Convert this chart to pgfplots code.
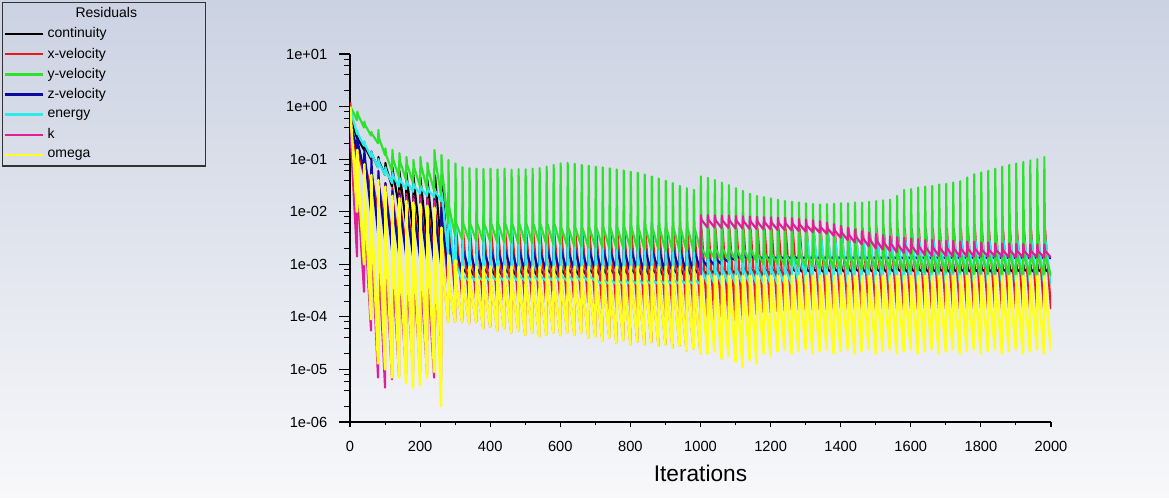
\documentclass[border=0pt]{standalone}
\usepackage{fontspec}
\setmainfont{Liberation Sans}
\usepackage{pgfplots}
\usepackage{pgfplotstable}
\pgfplotsset{compat=1.18}
\definecolor{bgtop}{RGB}{203,210,226}
\definecolor{bgbot}{RGB}{248,248,250}
\definecolor{cC}{RGB}{0,0,0}
\definecolor{cX}{RGB}{235,25,25}
\definecolor{cY}{RGB}{45,225,45}
\definecolor{cZ}{RGB}{10,10,160}
\definecolor{cE}{RGB}{45,235,235}
\definecolor{cK}{RGB}{225,30,150}
\definecolor{cW}{RGB}{255,255,30}

\pgfplotstableread{
it C X Y Z E K W
1 1 1.2 1 0.6 1 1 1
3 0.6 0.5 0.95 0.45 0.8 0.2 0.5
20 0.25 0.1 0.55 0.15 0.3 1.4e-3 0.01
21 0.28 0.2 0.8 0.25 0.35 0.1 0.15
23 0.24 0.14 0.7 0.2 0.3 0.02 0.05
40 0.15 0.05 0.4 0.06 0.18 3e-4 1e-3
41 0.2 0.12 0.52 0.15 0.22 0.05 0.08
43 0.17 0.08 0.45 0.1 0.19 5e-3 0.015
60 0.1 0.025 0.28 0.01 0.11 5.5e-5 9e-5
61 0.14 0.07 0.33 0.1 0.14 0.03 0.05
63 0.12 0.045 0.3 0.05 0.12 2e-3 8e-3
80 0.07 0.01 0.2 4e-3 0.07 7e-6 1.3e-5
81 0.11 0.05 0.36 0.06 0.1 0.025 0.04
83 0.09 0.03 0.25 0.03 0.085 1e-3 5e-3
100 0.05 6e-3 0.12 3e-3 0.05 4.5e-6 1e-5
101 0.085 0.035 0.16 0.035 0.07 0.022 0.03
103 0.07 0.02 0.12 0.02 0.06 8e-4 4e-3
120 0.03 3e-3 0.06 1.8e-3 0.035 6.5e-6 7e-6
121 0.07 0.028 0.15 0.025 0.055 0.02 0.02
123 0.055 0.015 0.1 0.012 0.048 6e-4 3e-3
140 0.012 2.5e-3 0.045 1.6e-3 0.03 7.5e-6 7e-6
141 0.06 0.025 0.13 0.022 0.045 0.02 0.018
143 0.045 0.013 0.09 0.011 0.04 5e-4 2.5e-3
160 6e-3 2.2e-3 0.04 1.5e-3 0.027 8e-6 5.5e-6
161 0.055 0.022 0.11 0.02 0.04 0.019 0.016
163 0.04 0.012 0.08 0.01 0.036 5e-4 2.5e-3
180 4e-3 2e-3 0.035 1.4e-3 0.024 9e-6 4.5e-6
181 0.05 0.02 0.097 0.019 0.035 0.018 0.015
183 0.035 0.011 0.07 9e-3 0.031 5e-4 2.5e-3
200 3e-3 1.8e-3 0.03 1.3e-3 0.022 9e-6 5e-6
201 0.045 0.02 0.11 0.018 0.032 0.018 0.014
203 0.032 0.011 0.075 9e-3 0.028 5e-4 2.5e-3
220 2.5e-3 1.7e-3 0.027 1.2e-3 0.02 8e-6 7e-6
221 0.04 0.018 0.085 0.017 0.03 0.017 0.013
223 0.03 0.01 0.065 8e-3 0.026 5e-4 2.5e-3
240 2.2e-3 1.6e-3 0.025 1.1e-3 0.019 7e-6 9e-6
241 0.05 0.018 0.15 0.017 0.028 0.016 0.012
243 0.045 0.01 0.1 8e-3 0.025 5e-4 2e-3
260 2e-3 1.5e-3 0.02 1e-3 0.016 7e-6 2e-6
261 0.045 0.015 0.12 0.012 0.024 5e-3 5e-3
263 0.03 8e-3 0.06 6e-3 0.02 1e-3 1e-3
280 1.2e-3 4e-4 6e-3 8e-4 1.5e-3 8e-5 8e-5
281 0.012 8e-3 0.097 5e-3 0.016 5e-4 1.5e-3
283 3e-3 6e-3 0.012 2.5e-3 0.01 4e-4 4e-4
300 6e-4 2.5e-4 3.5e-3 7.5e-4 5e-4 8e-5 8e-5
301 3e-3 6e-3 0.083 3.5e-3 0.014 3e-4 1.2e-3
303 1e-3 4.5e-3 6e-3 1.8e-3 1e-3 4e-4 4e-4
320 5.5e-4 2.2e-4 3e-3 7e-4 4.8e-4 8e-5 8e-5
321 1.8e-3 5.2e-3 0.07 2.4e-3 0.013 3e-4 9e-4
323 8e-4 4e-3 6e-3 1.8e-3 6e-4 4e-4 4e-4
340 6e-4 1.8e-4 2.8e-3 7.5e-4 4.8e-4 7.5e-5 7.5e-5
341 1.5e-3 5.5e-3 0.067 2.2e-3 0.012 3e-4 9e-4
343 8e-4 4e-3 6e-3 1.8e-3 6e-4 4e-4 4e-4
360 5.2e-4 2e-4 2.8e-3 6.5e-4 4.8e-4 8e-5 8e-5
361 1.5e-3 4.9e-3 0.066 2.1e-3 0.011 3e-4 9e-4
363 8e-4 4e-3 6e-3 1.8e-3 6e-4 4e-4 4e-4
380 5.5e-4 1.7e-4 2.7e-3 7e-4 4.8e-4 6e-5 6e-5
381 1.5e-3 5.2e-3 0.065 2.3e-3 0.0105 3e-4 9e-4
383 8e-4 4e-3 6e-3 1.8e-3 6e-4 4e-4 4e-4
400 6e-4 1.8e-4 2.7e-3 7.5e-4 4.8e-4 6.5e-5 6.5e-5
401 1.5e-3 5.5e-3 0.066 2.2e-3 0.01 3e-4 9e-4
403 8e-4 4e-3 6e-3 1.8e-3 6e-4 4e-4 4e-4
420 5.2e-4 2e-4 2.6e-3 6.5e-4 4.8e-4 5.5e-5 5.5e-5
421 1.5e-3 4.9e-3 0.064 2.1e-3 0.0095 3e-4 9e-4
423 8e-4 4e-3 6e-3 1.8e-3 6e-4 4e-4 4e-4
440 5.5e-4 1.7e-4 2.6e-3 7e-4 4.8e-4 6e-5 6e-5
441 1.5e-3 5.2e-3 0.066 2.3e-3 0.009 3e-4 9e-4
443 8e-4 4e-3 6e-3 1.8e-3 6e-4 4e-4 4e-4
460 6e-4 1.8e-4 2.6e-3 7.5e-4 4.8e-4 5e-5 5e-5
461 1.5e-3 5.5e-3 0.063 2.2e-3 0.0088 3e-4 9e-4
463 8e-4 4e-3 6e-3 1.8e-3 6e-4 4e-4 4e-4
480 5.2e-4 2e-4 2.5e-3 6.5e-4 4.8e-4 5.5e-5 5.5e-5
481 1.5e-3 4.9e-3 0.065 2.1e-3 0.0085 3e-4 9e-4
483 8e-4 4e-3 6e-3 1.8e-3 6e-4 4e-4 4e-4
500 5.5e-4 1.7e-4 2.5e-3 7e-4 4.8e-4 4.5e-5 4.5e-5
501 1.5e-3 5.2e-3 0.064 2.3e-3 0.0082 3e-4 9e-4
503 8e-4 4e-3 6e-3 1.8e-3 6e-4 4e-4 4e-4
520 6e-4 1.8e-4 2.5e-3 7.5e-4 4.8e-4 5e-5 5e-5
521 1.5e-3 5.5e-3 0.066 2.2e-3 0.008 3e-4 9e-4
523 8e-4 4e-3 6e-3 1.8e-3 6e-4 4e-4 4e-4
540 5.2e-4 2e-4 2.5e-3 6.5e-4 4.8e-4 4.2e-5 4.2e-5
541 1.5e-3 4.9e-3 0.068 2.1e-3 0.0078 3e-4 9e-4
543 8e-4 4e-3 6e-3 1.8e-3 6e-4 4e-4 4e-4
560 5.5e-4 1.7e-4 2.4e-3 7e-4 4.8e-4 4.5e-5 4.5e-5
561 1.5e-3 5.2e-3 0.072 2.3e-3 0.0076 3e-4 9e-4
563 8e-4 4e-3 6e-3 1.8e-3 6e-4 4e-4 4e-4
580 6e-4 1.8e-4 2.4e-3 7.5e-4 4.8e-4 5e-5 5e-5
581 1.5e-3 5.5e-3 0.078 2.2e-3 0.0074 3e-4 9e-4
583 8e-4 4e-3 6e-3 1.8e-3 6e-4 4e-4 4e-4
600 5.2e-4 2e-4 2.4e-3 6.5e-4 4.8e-4 4.5e-5 4.5e-5
601 1.5e-3 4.9e-3 0.083 2.1e-3 0.0072 3e-4 9e-4
603 8e-4 4e-3 5e-3 1.8e-3 6e-4 4e-4 4e-4
620 5.5e-4 1.7e-4 2.2e-3 7e-4 4.8e-4 5e-5 5e-5
621 1.5e-3 5.2e-3 0.085 2.3e-3 0.007 3e-4 9e-4
623 8e-4 4e-3 5e-3 1.8e-3 6e-4 4e-4 4e-4
640 6e-4 1.8e-4 2.2e-3 7.5e-4 4.8e-4 4.5e-5 4.5e-5
641 1.5e-3 5.5e-3 0.082 2.2e-3 0.0068 3e-4 9e-4
643 8e-4 4e-3 5e-3 1.8e-3 6e-4 4e-4 4e-4
660 5.2e-4 2e-4 2.2e-3 6.5e-4 4.8e-4 5e-5 5e-5
661 1.5e-3 4.9e-3 0.078 2.1e-3 0.0066 3e-4 9e-4
663 8e-4 4e-3 5e-3 1.8e-3 6e-4 4e-4 4e-4
680 5.5e-4 1.7e-4 2.1e-3 7e-4 4.8e-4 4e-5 4e-5
681 1.5e-3 5.2e-3 0.075 2.3e-3 0.0065 3e-4 9e-4
683 8e-4 4e-3 5e-3 1.8e-3 6e-4 4e-4 4e-4
700 6e-4 1.8e-4 2.1e-3 7.5e-4 4.8e-4 4.2e-5 4.2e-5
701 1.5e-3 5.5e-3 0.072 2.2e-3 0.0064 3e-4 9e-4
703 8e-4 4e-3 5e-3 1.8e-3 5e-4 4e-4 4e-4
720 5.2e-4 1.4e-4 2.1e-3 6.5e-4 4.2e-4 3.5e-5 3.5e-5
721 1.5e-3 4.9e-3 0.07 2.1e-3 0.0062 3e-4 9e-4
723 8e-4 4e-3 5e-3 1.8e-3 5e-4 4e-4 4e-4
740 5.5e-4 1.3e-4 2e-3 7e-4 4.2e-4 4e-5 4e-5
741 1.5e-3 5.2e-3 0.067 2.3e-3 0.0061 3e-4 9e-4
743 8e-4 4e-3 5e-3 1.8e-3 5e-4 4e-4 4e-4
760 6e-4 1.5e-4 2e-3 7.5e-4 4.2e-4 3.2e-5 3.2e-5
761 1.5e-3 5.5e-3 0.064 2.2e-3 0.006 3e-4 9e-4
763 8e-4 4e-3 5e-3 1.8e-3 5e-4 4e-4 4e-4
780 5.2e-4 1.4e-4 2e-3 6.5e-4 4.2e-4 3.6e-5 3.6e-5
781 1.5e-3 4.9e-3 0.061 2.1e-3 0.0059 3e-4 9e-4
783 8e-4 4e-3 5e-3 1.8e-3 5e-4 4e-4 4e-4
800 5.5e-4 1.3e-4 2e-3 7e-4 4.2e-4 3e-5 3e-5
801 1.5e-3 5.2e-3 0.058 2.3e-3 0.0058 3e-4 9e-4
803 8e-4 4e-3 5e-3 1.8e-3 5e-4 4e-4 4e-4
820 6e-4 1.5e-4 1.9e-3 7.5e-4 4.2e-4 3.4e-5 3.4e-5
821 1.5e-3 5.5e-3 0.055 2.2e-3 0.0057 3e-4 9e-4
823 8e-4 4e-3 5e-3 1.8e-3 5e-4 4e-4 4e-4
840 5.2e-4 1.4e-4 1.9e-3 6.5e-4 4.2e-4 3e-5 3e-5
841 1.5e-3 4.9e-3 0.051 2.1e-3 0.0056 3e-4 9e-4
843 8e-4 4e-3 5e-3 1.8e-3 5e-4 4e-4 4e-4
860 5.5e-4 1.3e-4 1.9e-3 7e-4 4.2e-4 3.3e-5 3.3e-5
861 1.5e-3 5.2e-3 0.047 2.3e-3 0.0055 3e-4 9e-4
863 8e-4 4e-3 5e-3 1.8e-3 5e-4 4e-4 4e-4
880 6e-4 1.5e-4 1.9e-3 7.5e-4 4.2e-4 2.8e-5 2.8e-5
881 1.5e-3 5.5e-3 0.043 2.2e-3 0.0055 3e-4 9e-4
883 8e-4 4e-3 5e-3 1.8e-3 5e-4 4e-4 4e-4
900 5.2e-4 1.4e-4 1.8e-3 6.5e-4 4.2e-4 3e-5 3e-5
901 1.5e-3 4.9e-3 0.039 2.1e-3 0.0054 3e-4 9e-4
903 8e-4 4e-3 5e-3 1.8e-3 5e-4 4e-4 4e-4
920 5.5e-4 1.3e-4 1.8e-3 7e-4 4.2e-4 2.6e-5 2.6e-5
921 1.5e-3 5.2e-3 0.035 2.3e-3 0.0054 3e-4 9e-4
923 8e-4 4e-3 5e-3 1.8e-3 5e-4 4e-4 4e-4
940 6e-4 1.5e-4 1.8e-3 7.5e-4 4.2e-4 2.8e-5 2.8e-5
941 1.5e-3 5.5e-3 0.031 2.2e-3 0.0053 3e-4 9e-4
943 8e-4 4e-3 5e-3 1.8e-3 5e-4 4e-4 4e-4
960 5.2e-4 1.4e-4 1.8e-3 6.5e-4 4.2e-4 2.3e-5 2.3e-5
961 1.5e-3 4.9e-3 0.028 2.1e-3 0.0053 3e-4 9e-4
963 8e-4 4e-3 5e-3 1.8e-3 5e-4 4e-4 4e-4
980 5.5e-4 1.3e-4 1.8e-3 7e-4 4.2e-4 2.5e-5 2.5e-5
981 1.5e-3 5.2e-3 0.026 2.3e-3 0.0052 3e-4 9e-4
983 8e-4 4e-3 5e-3 1.8e-3 5e-4 4e-4 4e-4
1000 6e-4 1.5e-4 1.8e-3 7.5e-4 4.2e-4 2e-5 2e-5
1001 1e-3 4.9e-3 0.047 2e-3 9e-3 8.6e-3 6e-4
1003 8e-4 4.6e-3 2e-3 1.3e-3 8e-4 7e-3 4e-4
1020 6.5e-4 1e-4 1.3e-3 9e-4 4.2e-4 5e-3 2e-5
1021 1e-3 4.9e-3 0.044 2e-3 8.7e-3 8.6e-3 6e-4
1023 8e-4 4.6e-3 2e-3 1.3e-3 8e-4 7e-3 4e-4
1040 6.8e-4 9e-5 1.3e-3 9.5e-4 4.2e-4 5e-3 2.2e-5
1041 1e-3 4.9e-3 0.04 1.9e-3 8.4e-3 8.5e-3 6e-4
1043 8e-4 4.6e-3 2e-3 1.3e-3 8e-4 6.9e-3 4e-4
1060 6.3e-4 1e-4 1.2e-3 1e-3 4.2e-4 4.9e-3 1.6e-5
1061 1e-3 4.9e-3 0.036 1.9e-3 8e-3 8.4e-3 6e-4
1063 8e-4 4.6e-3 2e-3 1.35e-3 8e-4 6.8e-3 4e-4
1080 6.5e-4 9e-5 1.2e-3 1.1e-3 4.2e-4 4.9e-3 1.8e-5
1081 1e-3 4.9e-3 0.032 1.85e-3 7.7e-3 8.4e-3 6e-4
1083 8e-4 4.6e-3 2e-3 1.35e-3 8e-4 6.8e-3 4e-4
1100 6.8e-4 8.5e-5 1.2e-3 1.2e-3 4.2e-4 4.8e-3 1.4e-5
1101 1e-3 4.9e-3 0.028 1.8e-3 7.4e-3 8.3e-3 6e-4
1103 8e-4 4.6e-3 2e-3 1.4e-3 8e-4 6.7e-3 4e-4
1120 6.3e-4 9e-5 1.1e-3 1.3e-3 4.2e-4 4.8e-3 1.1e-5
1121 1e-3 4.9e-3 0.025 1.8e-3 7e-3 8.2e-3 6e-4
1123 8e-4 4.6e-3 2e-3 1.4e-3 8e-4 6.6e-3 4e-4
1140 6.5e-4 1e-4 1.1e-3 1.3e-3 4.2e-4 4.7e-3 1.5e-5
1141 1e-3 4.9e-3 0.022 1.8e-3 6.8e-3 8.1e-3 6e-4
1143 8e-4 4.6e-3 2e-3 1.4e-3 8e-4 6.5e-3 4e-4
1160 6.8e-4 1.1e-4 1.1e-3 1.3e-3 4.2e-4 4.7e-3 1.3e-5
1161 1e-3 4.9e-3 0.02 1.8e-3 6.5e-3 8e-3 6e-4
1163 8e-4 4.6e-3 1.6e-3 1.4e-3 8e-4 6.4e-3 4e-4
1180 6.3e-4 1.2e-4 1e-3 1.3e-3 4.2e-4 4.6e-3 2e-5
1181 1e-3 4.9e-3 0.019 1.8e-3 6.2e-3 7.9e-3 6e-4
1183 8e-4 4.6e-3 1.6e-3 1.4e-3 8e-4 6.3e-3 4e-4
1200 6.5e-4 1.2e-4 1e-3 1.3e-3 4.2e-4 4.6e-3 1.8e-5
1201 1e-3 4.9e-3 0.018 1.8e-3 6e-3 7.8e-3 6e-4
1203 8e-4 4.6e-3 1.6e-3 1.4e-3 8e-4 6.2e-3 4e-4
1220 6.8e-4 1.25e-4 1e-3 1.3e-3 4.2e-4 4.5e-3 2.2e-5
1221 1e-3 4.9e-3 0.017 1.8e-3 5.8e-3 7.7e-3 6e-4
1223 8e-4 4.6e-3 1.6e-3 1.4e-3 8e-4 6.1e-3 4e-4
1240 6.3e-4 1.3e-4 9.5e-4 1.3e-3 4.2e-4 4.5e-3 2.4e-5
1241 1e-3 4.9e-3 0.016 1.8e-3 5.6e-3 7.6e-3 6e-4
1243 8e-4 4.6e-3 1.6e-3 1.4e-3 8e-4 6e-3 4e-4
1260 6.5e-4 1.35e-4 9.5e-4 1.3e-3 4.2e-4 4.4e-3 2e-5
1261 1e-3 4.9e-3 0.0155 1.8e-3 5.4e-3 7.5e-3 6e-4
1263 8e-4 4.6e-3 1.6e-3 1.4e-3 1.5e-3 5.9e-3 4e-4
1280 6.8e-4 1.35e-4 9e-4 1.3e-3 4.2e-4 4.3e-3 2.2e-5
1281 1e-3 4.9e-3 0.015 1.8e-3 5.2e-3 7.3e-3 6e-4
1283 8e-4 4.6e-3 1.6e-3 1.4e-3 2.5e-3 5.7e-3 4e-4
1300 6.3e-4 1.35e-4 9e-4 1.3e-3 4.2e-4 4.2e-3 2.4e-5
1301 1e-3 4.9e-3 0.0145 1.8e-3 5.1e-3 7.1e-3 6e-4
1303 8e-4 4.6e-3 1.6e-3 1.4e-3 3.8e-3 5.5e-3 4e-4
1320 6.5e-4 1.35e-4 9e-4 1.3e-3 4.2e-4 4.1e-3 2e-5
1321 1e-3 4.9e-3 0.014 1.8e-3 5e-3 6.9e-3 6e-4
1323 8e-4 4.6e-3 1.6e-3 1.4e-3 3.8e-3 5.3e-3 4e-4
1340 6.8e-4 1.35e-4 8.5e-4 1.3e-3 4.2e-4 4e-3 2.2e-5
1341 1e-3 4.9e-3 0.0138 1.8e-3 4.9e-3 6.6e-3 6e-4
1343 8e-4 4.6e-3 1.6e-3 1.4e-3 3.7e-3 5.1e-3 4e-4
1360 6.3e-4 1.35e-4 8.5e-4 1.3e-3 4.2e-4 3.8e-3 2.4e-5
1361 1e-3 4.9e-3 0.014 1.8e-3 4.8e-3 6.2e-3 6e-4
1363 8e-4 4.6e-3 1.6e-3 1.4e-3 3.6e-3 4.8e-3 4e-4
1380 6.5e-4 1.4e-4 8.5e-4 1.3e-3 4.2e-4 3.5e-3 2e-5
1381 1e-3 4.9e-3 0.0142 1.8e-3 4.7e-3 5.8e-3 6e-4
1383 8e-4 4.6e-3 1.6e-3 1.4e-3 3.5e-3 4.4e-3 4e-4
1400 6.8e-4 1.45e-4 8e-4 1.3e-3 4.2e-4 3.2e-3 2.2e-5
1401 1e-3 4.9e-3 0.0145 1.8e-3 4.6e-3 5.4e-3 6e-4
1403 8e-4 4.6e-3 1.6e-3 1.4e-3 3.5e-3 4e-3 4e-4
1420 6.3e-4 1.4e-4 8e-4 1.3e-3 4.2e-4 2.9e-3 2.4e-5
1421 1e-3 4.9e-3 0.0145 1.8e-3 4.6e-3 5e-3 6e-4
1423 8e-4 4.6e-3 1.6e-3 1.4e-3 3.5e-3 3.7e-3 4e-4
1440 6.5e-4 1.45e-4 8e-4 1.3e-3 4.2e-4 2.6e-3 2e-5
1441 1e-3 4.9e-3 0.015 1.8e-3 4.6e-3 4.6e-3 6e-4
1443 8e-4 4.6e-3 1.6e-3 1.4e-3 3.5e-3 3.4e-3 4e-4
1460 6.8e-4 1.4e-4 8e-4 1.3e-3 4.2e-4 2.4e-3 2.2e-5
1461 1e-3 4.9e-3 0.015 1.8e-3 4.6e-3 4.3e-3 6e-4
1463 8e-4 4.6e-3 1.6e-3 1.4e-3 3.5e-3 3.2e-3 4e-4
1480 6.3e-4 1.45e-4 8e-4 1.3e-3 4.2e-4 2.2e-3 2.4e-5
1481 1e-3 4.9e-3 0.0155 1.8e-3 4.6e-3 4e-3 6e-4
1483 8e-4 4.6e-3 1.6e-3 1.4e-3 3.5e-3 3e-3 4e-4
1500 6.5e-4 1.4e-4 8e-4 1.3e-3 4.2e-4 2e-3 2e-5
1501 1e-3 4.9e-3 0.016 1.8e-3 4.6e-3 3.8e-3 6e-4
1503 8e-4 4.6e-3 1.6e-3 1.4e-3 3.5e-3 2.8e-3 4e-4
1520 6.8e-4 1.45e-4 8e-4 1.3e-3 4.2e-4 1.9e-3 2.2e-5
1521 1e-3 4.9e-3 0.0165 1.8e-3 4.6e-3 3.6e-3 6e-4
1523 8e-4 4.6e-3 1.6e-3 1.4e-3 3.5e-3 2.6e-3 4e-4
1540 6.3e-4 1.4e-4 8e-4 1.3e-3 4.2e-4 1.8e-3 2.4e-5
1541 1e-3 4.9e-3 0.017 1.8e-3 4.6e-3 3.4e-3 6e-4
1543 8e-4 4.6e-3 1.6e-3 1.4e-3 3.5e-3 2.5e-3 4e-4
1560 6.5e-4 1.45e-4 8e-4 1.3e-3 4.2e-4 1.7e-3 2e-5
1561 1e-3 4.9e-3 0.02 1.8e-3 4.6e-3 3.3e-3 6e-4
1563 8e-4 4.6e-3 1.5e-3 1.4e-3 3.5e-3 2.4e-3 4e-4
1580 6.8e-4 1.4e-4 7.5e-4 1.3e-3 4.2e-4 1.65e-3 2.2e-5
1581 1e-3 4.9e-3 0.026 1.8e-3 4.6e-3 3.2e-3 6e-4
1583 8e-4 4.6e-3 1.5e-3 1.4e-3 3.5e-3 2.3e-3 4e-4
1600 6.3e-4 1.45e-4 7.5e-4 1.3e-3 4.2e-4 1.6e-3 2.4e-5
1601 1e-3 4.9e-3 0.027 1.8e-3 4.6e-3 3.1e-3 6e-4
1603 8e-4 4.6e-3 1.5e-3 1.4e-3 3.5e-3 2.2e-3 4e-4
1620 6.5e-4 1.4e-4 7.5e-4 1.3e-3 4.2e-4 1.55e-3 2e-5
1621 1e-3 4.9e-3 0.029 1.8e-3 4.6e-3 3e-3 6e-4
1623 8e-4 4.6e-3 1.5e-3 1.4e-3 3.5e-3 2.2e-3 4e-4
1640 6.8e-4 1.45e-4 7e-4 1.3e-3 4.2e-4 1.5e-3 2.2e-5
1641 1e-3 4.9e-3 0.03 1.8e-3 4.6e-3 2.9e-3 6e-4
1643 8e-4 4.6e-3 1.5e-3 1.4e-3 3.5e-3 2.1e-3 4e-4
1660 6.3e-4 1.4e-4 7e-4 1.3e-3 4.2e-4 1.45e-3 2.4e-5
1661 1e-3 4.9e-3 0.031 1.8e-3 4.6e-3 2.9e-3 6e-4
1663 8e-4 4.6e-3 1.5e-3 1.4e-3 3.5e-3 2.1e-3 4e-4
1680 6.5e-4 1.45e-4 7e-4 1.3e-3 4.2e-4 1.45e-3 2e-5
1681 1e-3 4.9e-3 0.033 1.8e-3 4.6e-3 2.8e-3 6e-4
1683 8e-4 4.6e-3 1.5e-3 1.4e-3 3.5e-3 2.05e-3 4e-4
1700 6.8e-4 1.4e-4 7e-4 1.3e-3 4.2e-4 1.45e-3 2.2e-5
1701 1e-3 4.9e-3 0.034 1.8e-3 4.6e-3 2.8e-3 6e-4
1703 8e-4 4.6e-3 1.5e-3 1.4e-3 3.5e-3 2.05e-3 4e-4
1720 6.3e-4 1.45e-4 7e-4 1.3e-3 4.2e-4 1.4e-3 2.4e-5
1721 1e-3 4.9e-3 0.036 1.8e-3 4.6e-3 2.8e-3 6e-4
1723 8e-4 4.6e-3 1.5e-3 1.4e-3 3.5e-3 2e-3 4e-4
1740 6.5e-4 1.4e-4 7e-4 1.3e-3 4.2e-4 1.4e-3 2e-5
1741 1e-3 4.9e-3 0.038 1.8e-3 4.6e-3 2.7e-3 6e-4
1743 8e-4 4.6e-3 1.5e-3 1.4e-3 3.5e-3 2e-3 4e-4
1760 6.8e-4 1.45e-4 6.5e-4 1.3e-3 4.2e-4 1.4e-3 2.2e-5
1761 1e-3 4.9e-3 0.045 1.8e-3 4.6e-3 2.7e-3 6e-4
1763 8e-4 4.6e-3 1.5e-3 1.4e-3 3.5e-3 2e-3 4e-4
1780 6.3e-4 1.4e-4 6.5e-4 1.3e-3 4.2e-4 1.4e-3 2.4e-5
1781 1e-3 4.9e-3 0.052 1.8e-3 4.6e-3 2.7e-3 6e-4
1783 8e-4 4.6e-3 1.5e-3 1.4e-3 3.5e-3 2e-3 4e-4
1800 6.5e-4 1.45e-4 6.5e-4 1.3e-3 4.2e-4 1.4e-3 2e-5
1801 1e-3 4.9e-3 0.056 1.8e-3 4.5e-3 2.6e-3 6e-4
1803 8e-4 4.6e-3 1.5e-3 1.4e-3 3.4e-3 1.9e-3 4e-4
1820 6.8e-4 1.4e-4 6.5e-4 1.3e-3 4.2e-4 1.4e-3 2.2e-5
1821 1e-3 4.9e-3 0.06 1.8e-3 4.5e-3 2.6e-3 6e-4
1823 8e-4 4.6e-3 1.5e-3 1.4e-3 3.4e-3 1.9e-3 4e-4
1840 6.3e-4 1.45e-4 6.5e-4 1.3e-3 4.2e-4 1.4e-3 2.4e-5
1841 1e-3 4.9e-3 0.066 1.8e-3 4.5e-3 2.5e-3 6e-4
1843 8e-4 4.6e-3 1.5e-3 1.4e-3 3.4e-3 1.9e-3 4e-4
1860 6.5e-4 1.4e-4 6.2e-4 1.3e-3 4.2e-4 1.4e-3 2e-5
1861 1e-3 4.9e-3 0.072 1.8e-3 4.5e-3 2.5e-3 6e-4
1863 8e-4 4.6e-3 1.5e-3 1.4e-3 3.4e-3 1.85e-3 4e-4
1880 6.8e-4 1.45e-4 6.2e-4 1.3e-3 4.2e-4 1.35e-3 2.2e-5
1881 1e-3 4.9e-3 0.078 1.8e-3 4.5e-3 2.5e-3 6e-4
1883 8e-4 4.6e-3 1.5e-3 1.4e-3 3.4e-3 1.85e-3 4e-4
1900 6.3e-4 1.4e-4 6.2e-4 1.3e-3 4.2e-4 1.35e-3 2.4e-5
1901 1e-3 4.9e-3 0.083 1.8e-3 4.5e-3 2.45e-3 6e-4
1903 8e-4 4.6e-3 1.5e-3 1.4e-3 3.4e-3 1.8e-3 4e-4
1920 6.5e-4 1.45e-4 6e-4 1.3e-3 4.2e-4 1.35e-3 2e-5
1921 1e-3 4.9e-3 0.089 1.8e-3 4.5e-3 2.45e-3 6e-4
1923 8e-4 4.6e-3 1.5e-3 1.4e-3 3.4e-3 1.8e-3 4e-4
1940 6.8e-4 1.4e-4 6e-4 1.3e-3 4.2e-4 1.35e-3 2.2e-5
1941 1e-3 4.9e-3 0.095 1.8e-3 4.5e-3 2.4e-3 6e-4
1943 8e-4 4.6e-3 1.5e-3 1.4e-3 3.4e-3 1.8e-3 4e-4
1960 6.3e-4 1.45e-4 6e-4 1.3e-3 4.2e-4 1.35e-3 2.4e-5
1961 1e-3 4.9e-3 0.1 1.8e-3 4.5e-3 2.4e-3 6e-4
1963 8e-4 4.6e-3 1.5e-3 1.4e-3 3.4e-3 1.8e-3 4e-4
1980 6.5e-4 1.4e-4 6e-4 1.3e-3 4.2e-4 1.35e-3 2e-5
1981 1e-3 4.9e-3 0.11 1.8e-3 4.5e-3 2.4e-3 6e-4
1983 8e-4 4.6e-3 1.5e-3 1.4e-3 3.4e-3 1.8e-3 4e-4
2000 6.5e-4 1.4e-4 6e-4 1.3e-3 4.2e-4 1.35e-3 2.3e-5
}\resid

\begin{document}
\begin{tikzpicture}
\shade[top color=bgtop, bottom color=bgbot] (0pt,0pt) rectangle (876.75pt,372.75pt);
\begin{axis}[
  at={(262.5pt,56.25pt)}, anchor=south west,
  scale only axis, width=525.75pt, height=276pt,
  ymode=log, xmin=0, xmax=2000, ymin=1e-6, ymax=10,
  axis x line=bottom, axis y line=left,
  axis line style={-, black, line width=0.9pt},
  x axis line style={shorten <=-7.5pt},
  tick align=outside,
  major tick length=8pt, minor tick length=4.5pt,
  tick style={black, line width=0.8pt},
  xtick style={/pgfplots/major tick length=4pt, /pgfplots/minor tick length=2.5pt},
  xtick={0,200,...,2000},
  xticklabels={0,200,400,600,800,1000,1200,1400,1600,1800,2000},
  minor x tick num=1,
  ytick={1e-6,1e-5,1e-4,1e-3,1e-2,1e-1,1,10},
  yticklabels={1e-06,1e-05,1e-04,1e-03,1e-02,1e-01,1e+00,1e+01},
  minor ytick={2e-6,4e-6,6e-6,8e-6,2e-5,4e-5,6e-5,8e-5,2e-4,4e-4,6e-4,8e-4,2e-3,4e-3,6e-3,8e-3,2e-2,4e-2,6e-2,8e-2,2e-1,4e-1,6e-1,8e-1,2,4,6,8},
  tick label style={font=\fontsize{11}{13}\selectfont},
  yticklabel style={xshift=-5.5pt},
  xticklabel style={yshift=-3pt},
  xlabel={Iterations},
  xlabel style={font=\fontsize{17}{20}\selectfont, at={(axis description cs:0.5,-0.1386)}, anchor=center},
  every axis plot/.append style={line width=1.6pt, line join=round, mark=none},
  legend cell align=left,
  legend image code/.code={\draw[#1, line width=2pt] (0pt,0pt) -- (28.5pt,0pt);},
  legend style={at={(-0.4964,1.1413)}, anchor=north west,
    draw=black!80, line width=1.1pt, fill=none, inner sep=0.6pt, row sep=0pt,
    font=\fontsize{10.5}{12}\selectfont,
    nodes={inner sep=0pt, minimum height=15.15pt},
    /tikz/every odd column/.append style={column sep=2.5pt}},
]
% series: energy lies over continuity, x- and z-velocity, under y-velocity
\addplot[cC, forget plot] table[x=it, y=C] {\resid};
\addplot[cX, forget plot] table[x=it, y=X] {\resid};
\addplot[cZ, forget plot] table[x=it, y=Z] {\resid};
\addplot[cE, forget plot] table[x=it, y=E] {\resid};
\addplot[cY, forget plot] table[x=it, y=Y] {\resid};
\addplot[cK, forget plot] table[x=it, y=K] {\resid};
\addplot[cW, forget plot, line width=1.9pt] table[x=it, y=W] {\resid};
% legend in the solver's order
\addlegendimage{empty legend}
\addlegendentry{\makebox[118pt][l]{\hspace{21pt}Residuals}}
\addlegendimage{cC}\addlegendentry{continuity}
\addlegendimage{cX}\addlegendentry{x-velocity}
\addlegendimage{cY}\addlegendentry{y-velocity}
\addlegendimage{cZ}\addlegendentry{z-velocity}
\addlegendimage{cE}\addlegendentry{energy}
\addlegendimage{cK}\addlegendentry{k}
\addlegendimage{cW}\addlegendentry{omega}
\end{axis}
\pgfresetboundingbox
\useasboundingbox (0pt,0pt) rectangle (876.75pt,372.75pt);
\end{tikzpicture}
\end{document}
